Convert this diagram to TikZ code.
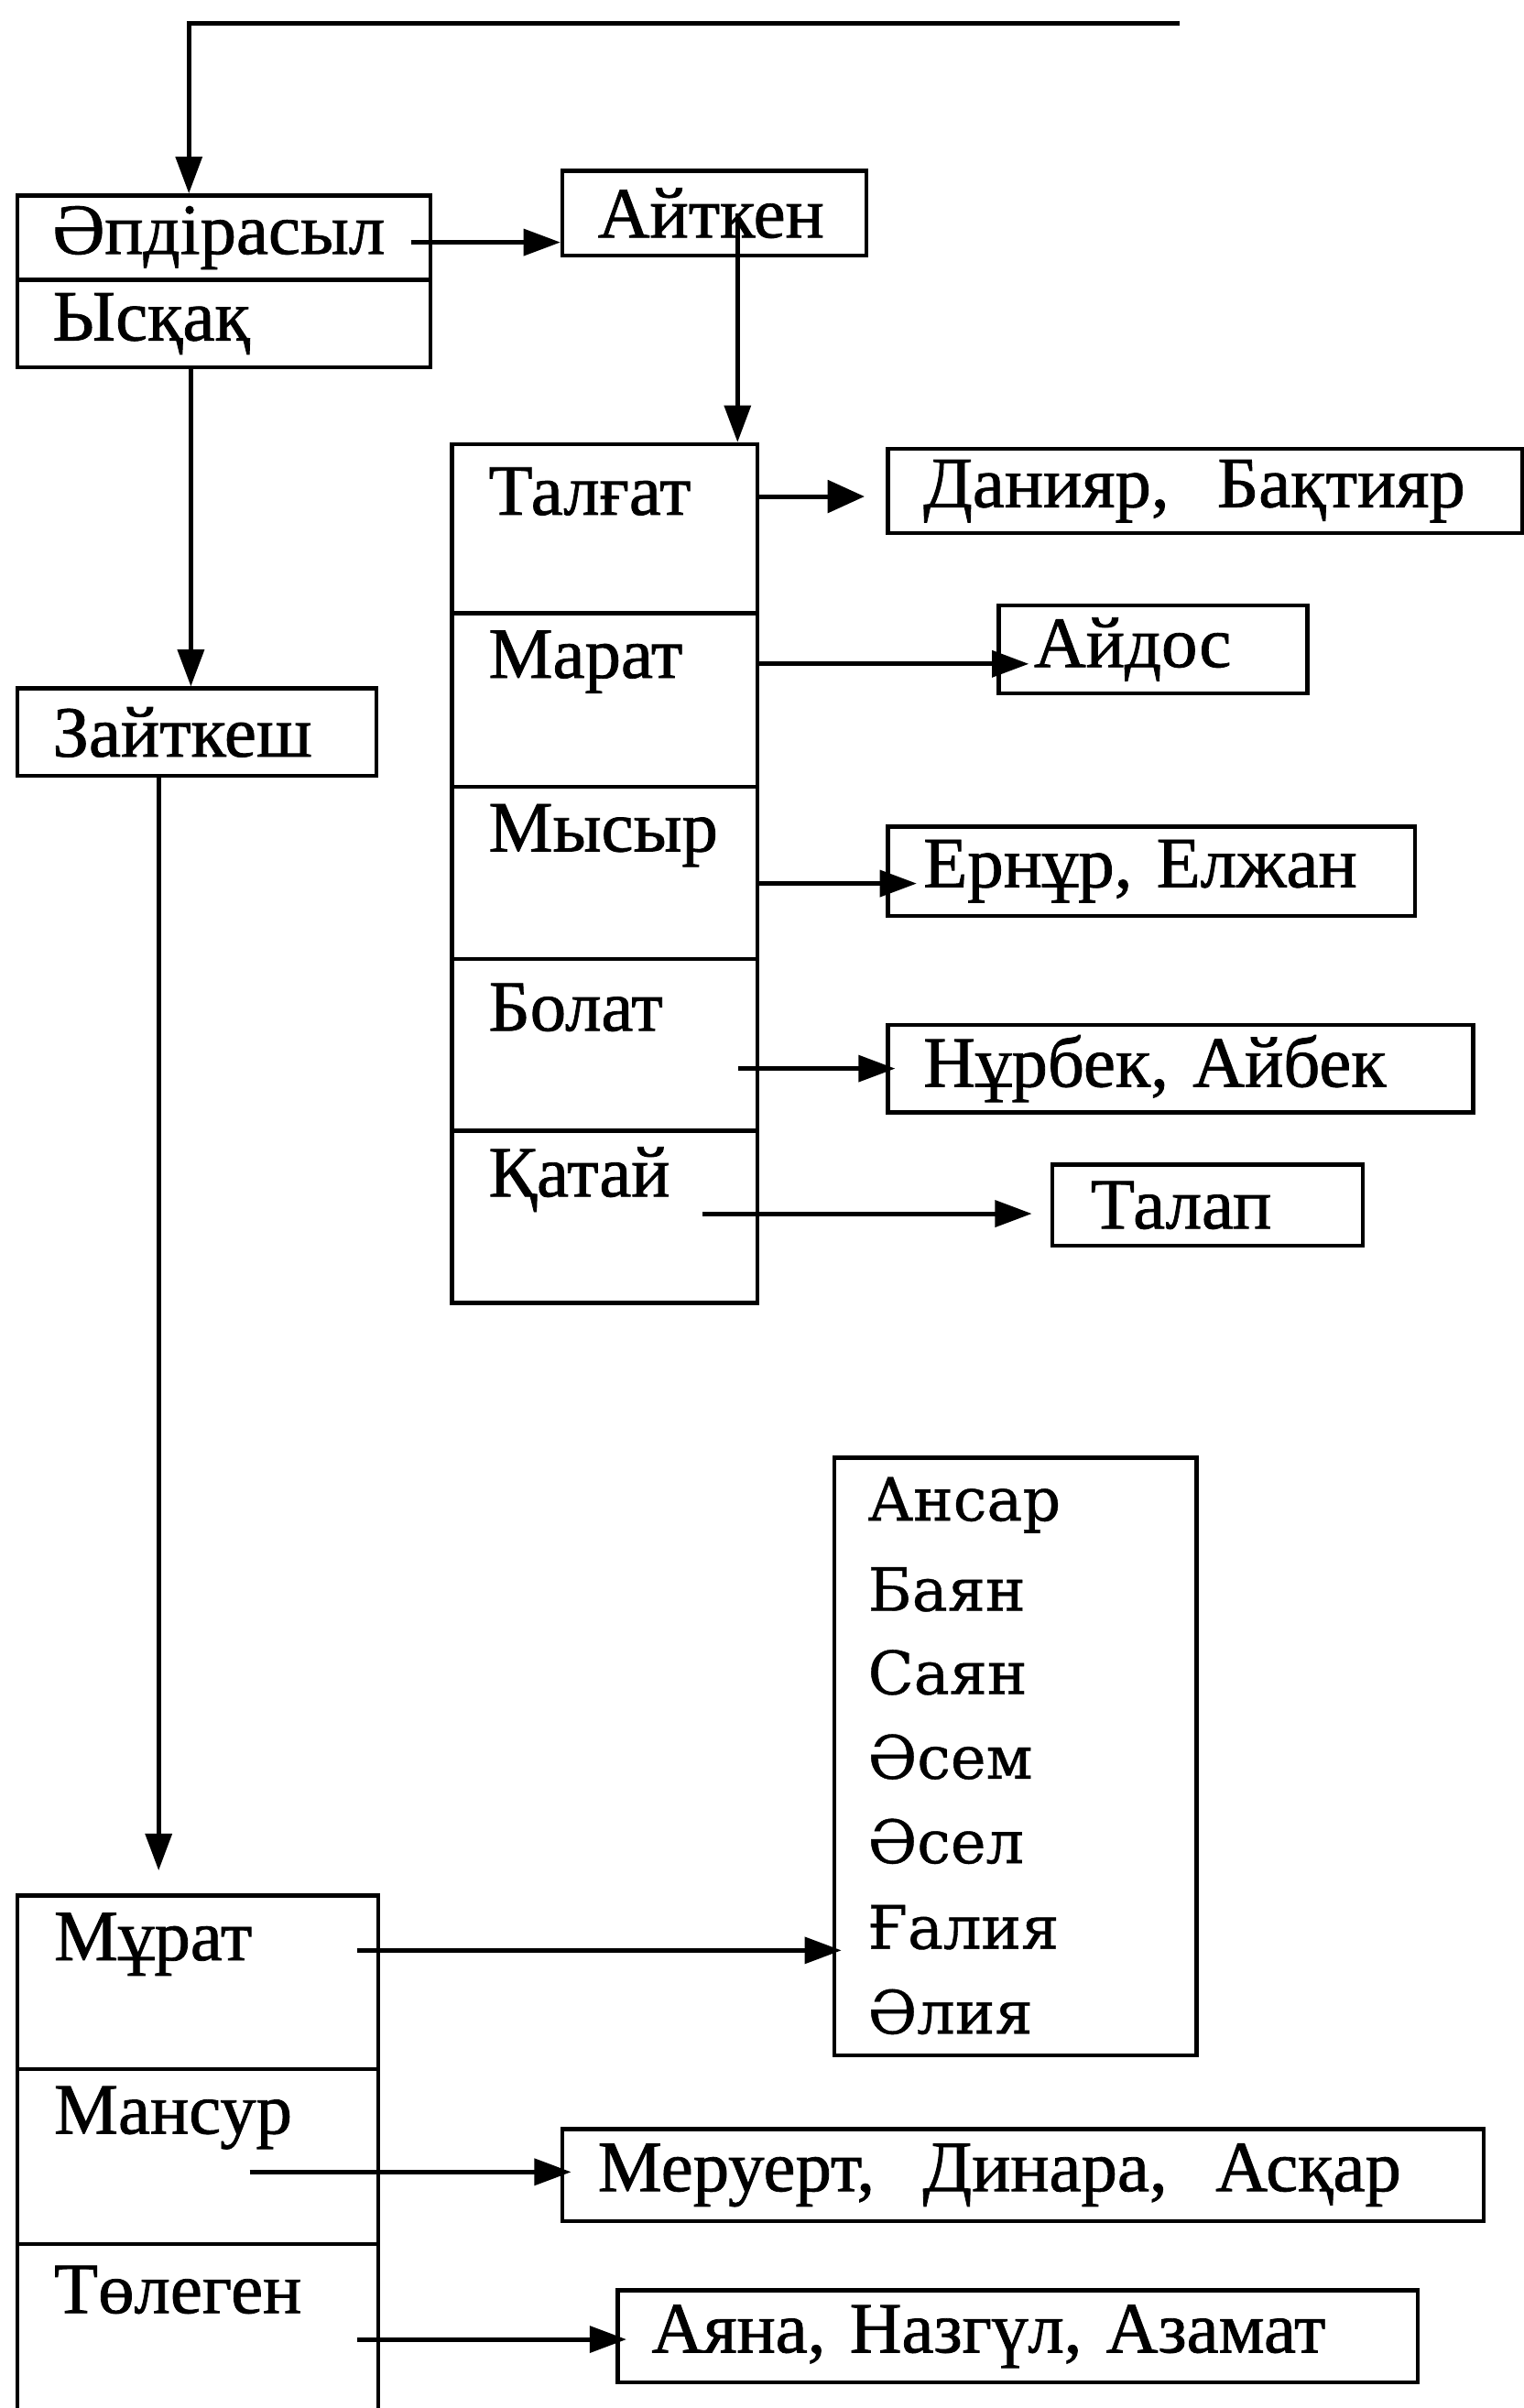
\documentclass[tikz,border=0pt]{standalone}
\usepackage{fontspec}
\setmainfont{Liberation Serif}[FakeBold=1]
\newfontfamily\listfont{DejaVu Serif}[FakeBold=0.6]
\usetikzlibrary{arrows.meta,calc}
\tikzset{
  bx/.style={draw, line width=2.6pt, anchor=north west, inner ysep=0pt, align=left},
  cell/.style={draw, line width=2.6pt, anchor=north west, inner sep=0pt},
  txt/.style={anchor=west, inner sep=0pt},
  lt/.style={anchor=west, inner sep=0pt, font=\listfont\fontsize{39}{44}\selectfont},
  arr/.style={line width=3pt, -{Triangle[length=24pt,width=17pt]}},
}
\begin{document}
\begin{tikzpicture}[x=1pt,y=-1pt,font=\fontsize{47}{52}\selectfont]
\useasboundingbox (0,0) rectangle (992,1568);
% left top
\node[bx, inner xsep=23pt, text width=223pt, minimum height=55pt] (aa) at (10,126) {Әпдiрасыл};
\node[bx, inner xsep=23pt, text width=223pt, minimum height=57pt] (ys) at (10,181) {Ысқақ};
\node[bx, inner xsep=23pt, text width=152pt, minimum height=55pt] (ait) at (365,110) {Айткен};
\node[bx, inner xsep=23pt, text width=188pt, minimum height=57pt] (zk) at (10,447) {Зайткеш};
% Talgat column
\node[cell, minimum width=199pt, minimum height=110pt] (c1) at (293,288) {};
\node[cell, minimum width=199pt, minimum height=113pt] (c2) at (293,398) {};
\node[cell, minimum width=199pt, minimum height=112pt] (c3) at (293,511) {};
\node[cell, minimum width=199pt, minimum height=112pt] (c4) at (293,623) {};
\node[cell, minimum width=199pt, minimum height=112pt] (c5) at (293,735) {};
\node[txt] (t1) at ([xshift=25pt,yshift=-32pt]c1.north west) {Талғат};
\node[txt] (t2) at ([xshift=25pt,yshift=-33pt]c2.north west) {Марат};
\node[txt] (t3) at ([xshift=25pt,yshift=-33pt]c3.north west) {Мысыр};
\node[txt] (t4) at ([xshift=25pt,yshift=-33pt]c4.north west) {Болат};
\node[txt] (t5) at ([xshift=25pt,yshift=-33pt]c5.north west) {Қатай};
% children boxes
\node[bx, inner xsep=23pt, text width=367pt, minimum height=55pt] (dan) at (577,291) {Данияр,\ \ Бақтияр};
\node[bx, inner xsep=23pt, text width=155pt, minimum height=57pt] (aid) at (649,393) {Айдос};
\node[bx, inner xsep=23pt, text width=297pt, minimum height=58pt] (ern) at (577,537) {Ернұр, Елжан};
\node[bx, inner xsep=23pt, text width=335pt, minimum height=57pt] (nur) at (577,666) {Нұрбек, Айбек};
\node[bx, inner xsep=25pt, text width=152pt, minimum height=53pt] (tal) at (684,757) {Талап};
% list box
\node[cell, minimum width=236pt, minimum height=389pt] (lst) at (542,948) {};
\node[lt] (n1) at (565,980) {Ансар};
\node[lt] (n2) at (565,1035) {Баян};
\node[lt] (n3) at (565,1089) {Саян};
\node[lt] (n4) at (565,1144) {Әсем};
\node[lt] (n5) at (565,1199) {Әсел};
\node[lt] (n6) at (565,1255) {Ғалия};
\node[lt] (n7) at (565,1310) {Әлия};
% Murat column
\node[cell, minimum width=235pt, minimum height=113pt] (m1) at (10,1233) {};
\node[cell, minimum width=235pt, minimum height=114pt] (m2) at (10,1346) {};
\node[cell, minimum width=235pt, minimum height=130pt] (m3) at (10,1460) {};
\node[txt] (u1) at ([xshift=25pt,yshift=-33pt]m1.north west) {Мұрат};
\node[txt] (u2) at ([xshift=25pt,yshift=-33pt]m2.north west) {Мансур};
\node[txt] (u3) at ([xshift=25pt,yshift=-31pt]m3.north west) {Төлеген};
\node[bx, inner xsep=23pt, text width=554pt, minimum height=60pt] (mer) at (365,1385) {Меруерт,\ \ Динара,\ \ Асқар};
\node[bx, inner xsep=22pt, text width=477pt, minimum height=60pt] (aya) at (401,1490) {Аяна, Назгүл, Азамат};
% connectors
\coordinate (topR) at (768,15);
\coordinate (aax) at ([xshift=113pt]aa.north west);
\draw[arr] (topR) -| (aax);
\coordinate (aas) at ([xshift=-14pt,yshift=-3pt]aa.east);
\draw[arr] (aas) -- (aas -| ait.west);
\coordinate (aitx) at ([xshift=15pt]ait.center);
\draw[arr] (aitx) -- (aitx |- c1.north);
\coordinate (ysx) at ([xshift=-21.5pt]ys.south);
\draw[arr] (ysx) -- (ysx |- zk.north);
\coordinate (zkx) at ([xshift=-25pt]zk.south);
\draw[arr, shorten >=15pt] (zkx) -- (zkx |- m1.north);
\coordinate (dy) at ([yshift=-3.5pt]dan.west);
\draw[arr, -{Triangle[length=24pt,width=21pt]}, shorten >=14pt] (c1.east |- dy) -- (dy);
\coordinate (ay) at ([xshift=21pt,yshift=-9.5pt]aid.west);
\draw[arr] (c2.east |- ay) -- (ay);
\coordinate (ey) at ([xshift=20pt,yshift=-8pt]ern.west);
\draw[arr] (c3.east |- ey) -- (ey);
\coordinate (ny) at ([xshift=6pt]nur.west);
\draw[arr] ([xshift=-14pt]c4.east |- ny) -- (ny);
\coordinate (ty) at ([xshift=-12pt,yshift=-5.5pt]tal.west);
\draw[arr] ([xshift=-37pt]c5.east |- ty) -- (ty);
\coordinate (ly) at (lst.west |- 0,1270);
\coordinate (lyt) at ([xshift=6pt]ly);
\draw[arr] ([xshift=-15pt]m1.east |- lyt) -- (lyt);
\coordinate (my) at ([xshift=7pt,yshift=2pt]mer.west);
\draw[arr] ([xshift=-85pt]m2.east |- my) -- (my);
\coordinate (yy) at ([xshift=7pt,yshift=-2pt]aya.west);
\draw[arr] ([xshift=-15pt]m3.east |- yy) -- (yy);
\end{tikzpicture}
\end{document}
